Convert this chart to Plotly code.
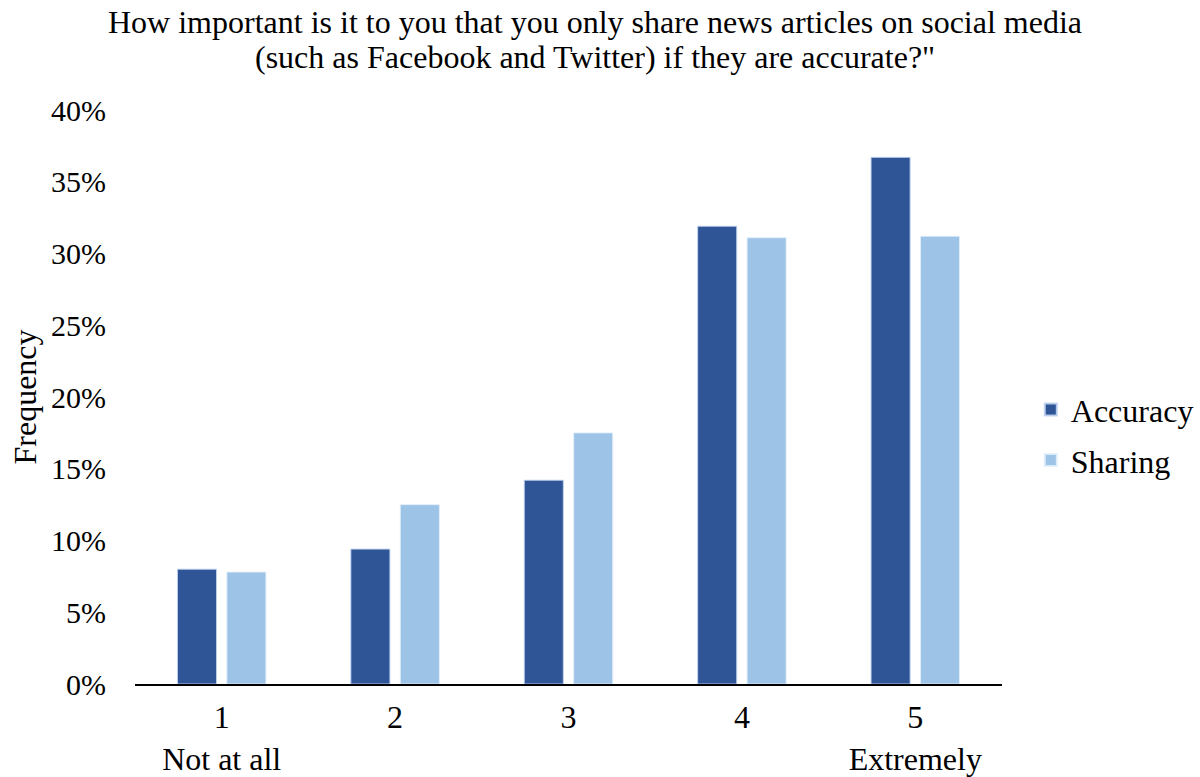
import plotly.graph_objects as go

# Survey response scale (1 = Not at all ... 5 = Extremely)
categories = ["1", "2", "3", "4", "5"]
tick_labels = ["1<br>Not at all", "2", "3", "4", "5<br>Extremely"]
y_ticks = [0, 5, 10, 15, 20, 25, 30, 35, 40]
y_tick_labels = ["0%", "5%", "10%", "15%", "20%", "25%", "30%", "35%", "40%"]

# Share of respondents (%) per response level
accuracy = [8.0, 9.4, 14.2, 31.9, 36.7]
sharing = [7.8, 12.5, 17.5, 31.1, 31.2]

title_lines = [
    "How important is it to you that you only share news articles on social media",
    "(such as Facebook and Twitter) if they are accurate?\"",
]

FONT = "Liberation Serif, Times New Roman, serif"
MARGIN = dict(l=135, r=198, t=110, b=92.5)
PLOT_W = 1200 - MARGIN["l"] - MARGIN["r"]
PLOT_H = 777 - MARGIN["t"] - MARGIN["b"]

fig = go.Figure()
fig.add_trace(go.Bar(
    name="Accuracy", x=categories, y=accuracy, legendgroup="acc",
    marker=dict(color="#2F5597", line=dict(color="rgba(190,210,240,0.9)", width=1)),
))
fig.add_trace(go.Bar(
    name="Sharing", x=categories, y=sharing, legendgroup="sh",
    marker=dict(color="#9DC3E6", line=dict(color="rgba(225,238,250,0.9)", width=1)),
))

# Two-line heading, one annotation per line for tight line spacing
for i, line in enumerate(title_lines):
    fig.add_annotation(
        text=line, xref="paper", yref="paper",
        x=(595 - MARGIN["l"]) / PLOT_W,
        y=1 + (MARGIN["t"] - 22 - 35 * i) / PLOT_H,
        xanchor="center", yanchor="middle", showarrow=False,
        font=dict(family=FONT, size=32, color="black"),
    )

fig.update_layout(
    width=1200, height=777,
    paper_bgcolor="white", plot_bgcolor="white",
    font=dict(family=FONT, size=32, color="black"),
    margin=MARGIN,
    barmode="group", bargap=0.43, bargroupgap=0.21,
    legend=dict(
        xref="container", yref="container",
        x=0.859, xanchor="left", y=0.44, yanchor="middle",
        font=dict(family=FONT, size=32, color="black"),
        tracegroupgap=6, itemsizing="constant",
    ),
    showlegend=True,
)

fig.update_xaxes(
    tickmode="array", tickvals=categories, ticktext=tick_labels,
    showline=True, linecolor="black", linewidth=1.5,
    showgrid=False, ticks="", ticklen=0, ticklabelstandoff=4,
    tickfont=dict(family=FONT, size=32, color="black"),
    automargin=False,
)
fig.update_yaxes(
    range=[0, 40], tickmode="array", tickvals=y_ticks, ticktext=y_tick_labels,
    showline=False, showgrid=False, zeroline=False, ticks="",
    ticklabelstandoff=28,
    tickfont=dict(family=FONT, size=30, color="black"),
    title=dict(text="Frequency", font=dict(family=FONT, size=32, color="black"), standoff=4),
    automargin=False,
)

fig.write_html("out.html")
